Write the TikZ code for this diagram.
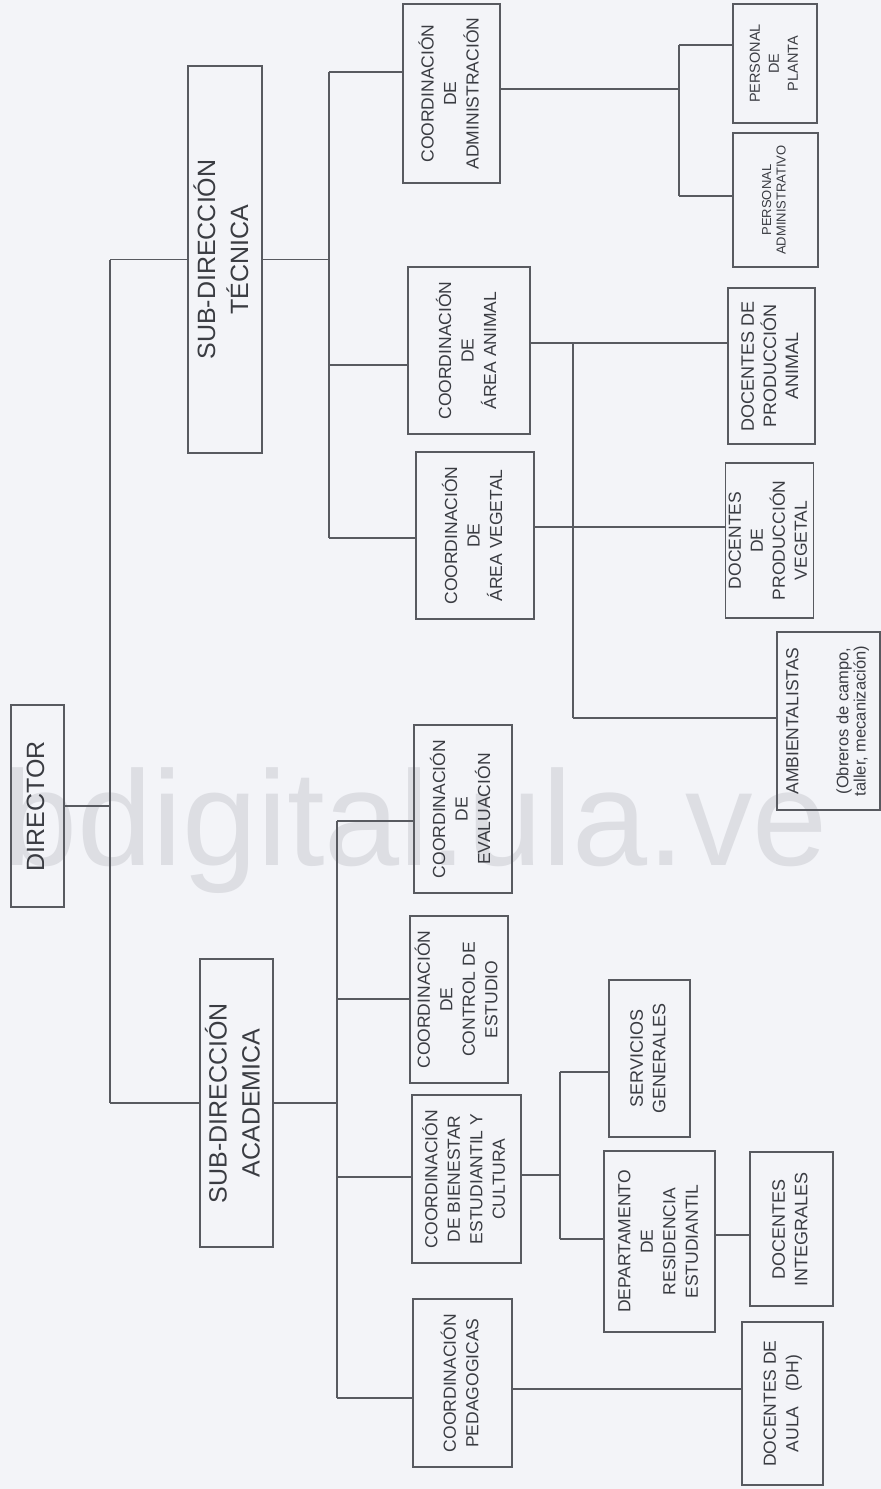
\documentclass[tikz,border=0pt]{standalone}
\usepackage{fontspec}
\setmainfont{Liberation Sans}
\usepackage{graphicx}
\definecolor{bg}{RGB}{243,244,248}
\definecolor{wm}{RGB}{221,222,227}
\definecolor{ln}{RGB}{88,90,96}
\definecolor{tx}{RGB}{58,60,66}
\newcommand{\rtx}[3]{\rotatebox{90}{\fontsize{#1}{#2}\selectfont\begin{tabular}{@{}c@{}}#3\end{tabular}}}
\tikzset{
  box/.style={draw=ln, line width=1.3pt, inner sep=0pt, text=tx},
  conn/.style={draw=ln, line width=1.2pt},
}
\begin{document}
\begin{tikzpicture}[x=1pt,y=-1pt]
\fill[bg] (0,0) rectangle (881,1489);
\useasboundingbox (0,0) rectangle (881,1489);
% watermark
\node[anchor=base west, inner sep=0pt, text=wm, font=\fontsize{135}{135}\selectfont] (wmk) at (2,865) {bdigital.ula.ve};

% boxes
\node[box, minimum width=53pt, minimum height=202pt] (dir) at (37.5,806) {\rtx{25}{33}{DIRECTOR}\hspace{23pt}};
\node[box, minimum width=74pt, minimum height=387pt] (tec) at (225,259.5) {\rtx{25}{33}{SUB-DIRECCIÓN\\TÉCNICA}};
\node[box, minimum width=73pt, minimum height=288pt] (aca) at (236.5,1103) {\rtx{25}{33}{SUB-DIRECCIÓN\\ACADEMICA}};

\node[box, minimum width=97pt, minimum height=179pt] (adm) at (451.5,93.5) {\rtx{17.5}{22.5}{COORDINACIÓN\\DE\\ADMINISTRACIÓN}};
\node[box, minimum width=122pt, minimum height=167pt] (ani) at (469,350.5) {\rtx{17.5}{22.5}{COORDINACIÓN\\DE\\ÁREA ANIMAL}};
\node[box, minimum width=118pt, minimum height=167pt] (veg) at (475,535.5) {\rtx{17.5}{22.5}{COORDINACIÓN\\DE\\ÁREA VEGETAL}};

\node[box, minimum width=84pt, minimum height=119pt] (ppl) at (775,63.5) {\rtx{14.5}{19}{PERSONAL\\DE\\PLANTA}};
\node[box, minimum width=85pt, minimum height=134pt] (pad) at (775.5,200) {\rtx{13}{14.5}{PERSONAL\\ADMINISTRATIVO}};
\node[box, minimum width=87pt, minimum height=156pt] (dpa) at (771.5,366) {\rtx{18}{22}{DOCENTES DE\\PRODUCCIÓN\\ANIMAL}};
\node[box, minimum width=85pt, minimum height=155pt] (dpv) at (769.5,540.5) {\rtx{17.5}{22}{DOCENTES\\DE\\PRODUCCIÓN\\VEGETAL}};
\node[box, minimum width=103pt, minimum height=178pt] (amb) at (828.5,721) {\rtx{16.5}{17}{{\fontsize{17.5}{17}\selectfont AMBIENTALISTAS}\\[33pt](Obreros de campo,\\taller, mecanización)}};

\node[box, minimum width=98pt, minimum height=168pt] (eva) at (463,809) {\rtx{17.5}{22.5}{COORDINACIÓN\\DE\\EVALUACIÓN}};
\node[box, minimum width=98pt, minimum height=167pt] (ctl) at (459,999.5) {\rtx{17.5}{22.5}{COORDINACIÓN\\DE\\CONTROL DE\\ESTUDIO}};
\node[box, minimum width=109pt, minimum height=168pt] (bie) at (466.5,1179) {\rtx{17.5}{22.5}{COORDINACIÓN\\DE BIENESTAR\\ESTUDIANTIL Y\\CULTURA}};
\node[box, minimum width=99pt, minimum height=168pt] (ped) at (462.5,1383) {\rtx{17.5}{22.5}{COORDINACIÓN\\PEDAGOGICAS}};

\node[box, minimum width=81pt, minimum height=157pt] (ser) at (649.5,1058.5) {\rtx{18}{22.5}{SERVICIOS\\GENERALES}};
\node[box, minimum width=111pt, minimum height=181pt] (res) at (659.5,1241.5) {\rtx{17.5}{22.5}{DEPARTAMENTO\\DE\\RESIDENCIA\\ESTUDIANTIL}};
\node[box, minimum width=83pt, minimum height=154pt] (din) at (791.5,1229) {\rtx{18}{22.5}{DOCENTES\\INTEGRALES}};
\node[box, minimum width=81pt, minimum height=163pt] (dau) at (782.5,1403.5) {\rtx{17.5}{22.5}{DOCENTES DE\\AULA\ \ \ (DH)}};

% junction coordinates
\coordinate (sT) at (110,259.5);
\coordinate (sA) at (110,1103);
\coordinate (t1) at (329,72);
\coordinate (t2) at (329,365);
\coordinate (t3) at (329,538);
\coordinate (aj) at (679,89);
\coordinate (a1) at (679,45);
\coordinate (a2) at (679,196);
\coordinate (nj) at (573,343);
\coordinate (nb) at (573,718);
\coordinate (vj) at (573,527);
\coordinate (c1) at (337,821);
\coordinate (c2) at (337,999);
\coordinate (c3) at (337,1177);
\coordinate (c4) at (337,1398);
\coordinate (bj) at (560,1175);
\coordinate (b1) at (560,1072);
\coordinate (b2) at (560,1239);
\coordinate (rj) at (715,1235);
\coordinate (pj) at (512,1389);

% director level
\draw[conn] (dir.east) -- (dir.east -| sT);
\draw[conn] (sT) -- (sA);
\draw[conn] (sT) -- (tec.west);
\draw[conn] (sA) -- (aca.west);

% technical branch
\draw[conn] (tec.east) -- (tec.east -| t1);
\draw[conn] (t1) -- (t3);
\draw[conn] (t1) -- (t1 -| adm.west);
\draw[conn] (t2) -- (t2 -| ani.west);
\draw[conn] (t3) -- (t3 -| veg.west);
\draw[conn] (aj -| adm.east) -- (aj);
\draw[conn] (a1) -- (a2);
\draw[conn] (a1) -- (a1 -| ppl.west);
\draw[conn] (a2) -- (a2 -| pad.west);
\draw[conn] (nj -| ani.east) -- (nj -| dpa.west);
\draw[conn] (nj) -- (nb);
\draw[conn] (nb) -- (nb -| amb.west);
\draw[conn] (vj -| veg.east) -- (vj -| dpv.west);

% academic branch
\draw[conn] (aca.east) -- (aca.east -| c1);
\draw[conn] (c1) -- (c4);
\draw[conn] (c1) -- (c1 -| eva.west);
\draw[conn] (c2) -- (c2 -| ctl.west);
\draw[conn] (c3) -- (c3 -| bie.west);
\draw[conn] (c4) -- (c4 -| ped.west);
\draw[conn] (bj -| bie.east) -- (bj);
\draw[conn] (b1) -- (b2);
\draw[conn] (b1) -- (b1 -| ser.west);
\draw[conn] (b2) -- (b2 -| res.west);
\draw[conn] (rj -| res.east) -- (rj -| din.west);
\draw[conn] (pj -| ped.east) -- (pj -| dau.west);
\end{tikzpicture}
\end{document}
